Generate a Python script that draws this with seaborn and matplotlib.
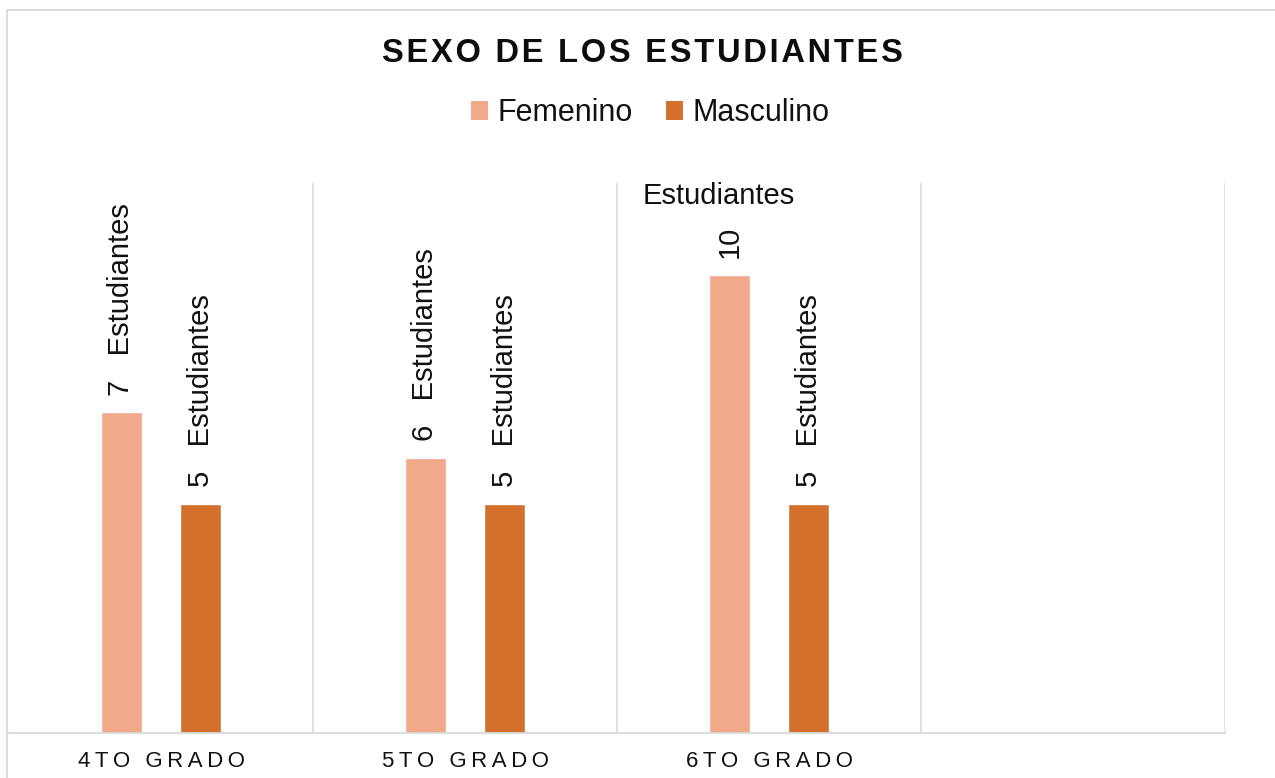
import matplotlib
matplotlib.use("Agg")
import matplotlib.pyplot as plt
from matplotlib.lines import Line2D
from matplotlib.patches import Patch
import seaborn as sns
import pandas as pd

# ---- data ----
grados = ["4TO GRADO", "5TO GRADO", "6TO GRADO", " "]
sexos = ["Femenino", "Masculino"]
femenino = [7, 6, 10]
masculino = [5, 5, 5]
colores = ["#F1A98A", "#D3702C"]
titulo = "SEXO DE LOS ESTUDIANTES"
unidad = "Estudiantes"

rows = []
for g, f, m in zip(grados, femenino, masculino):
    rows.append({"grado": g, "sexo": "Femenino", "n": f})
    rows.append({"grado": g, "sexo": "Masculino", "n": m})
df = pd.DataFrame(rows)

sns.set_theme(style="white")
plt.rcParams["font.family"] = ["Liberation Sans", "DejaVu Sans"]

W, H = 1275, 778
fig = plt.figure(figsize=(W / 100, H / 100), dpi=100)
ax = fig.add_axes([9 / W, 1 - 733 / H, 1216 / W, 550 / H])

sns.barplot(data=df, x="grado", y="n", hue="sexo", order=grados,
            hue_order=sexos, palette=colores, width=0.52, gap=0.48,
            saturation=1, legend=False, ax=ax)

ax.set_xlim(-0.5, len(grados) - 0.5)
ax.set_ylim(0, 12)
ax.set_xlabel("")
ax.set_ylabel("")
ax.set_yticks([])

# category boundaries as vertical gridlines
ax.set_xticks([i + 0.5 for i in range(len(grados))], minor=True)
ax.grid(which="minor", axis="x", color="#D9D9D9", linewidth=1.1)
ax.grid(which="major", visible=False)
ax.set_axisbelow(True)

sp = lambda s: "\u2009".join(list(s))
ax.set_xticks(range(len(grados)))
ax.set_xticklabels([sp(g) for g in grados], fontsize=16, color="#111111")
ax.tick_params(axis="x", which="both", length=0, pad=13)

for s in ["left", "right", "top"]:
    ax.spines[s].set_visible(False)
ax.spines["bottom"].set_color("#D9D9D9")
ax.spines["bottom"].set_linewidth(1.3)

# data labels
for cont in ax.containers:
    for bar in cont:
        v = bar.get_height()
        if v is None or v != v:
            continue
        xc = bar.get_x() + bar.get_width() / 2
        if v > 8:
            # tall bar: number rotated, unit wrapped horizontally above
            ax.annotate(f"{int(v)}", (xc, v), xytext=(0, 12),
                        textcoords="offset points", rotation=90,
                        ha="center", va="bottom", fontsize=21,
                        color="#111111", annotation_clip=False)
            ax.annotate(unidad, (xc, v), xytext=(-8, 51),
                        textcoords="offset points", ha="center",
                        va="baseline", fontsize=21, color="#111111",
                        annotation_clip=False)
        else:
            ax.annotate(f"{int(v)}   {unidad}", (xc, v), xytext=(0, 12),
                        textcoords="offset points", rotation=90,
                        ha="center", va="bottom", fontsize=21,
                        color="#111111", annotation_clip=False)

# title
fig.text(642.5 / W, 1 - 62 / H, "\u200a".join(list(titulo)), ha="center",
         va="baseline", fontsize=23.5, fontweight="bold", color="#0d0d0d")

# legend
handles = [Patch(facecolor=c, edgecolor="none", label=s)
           for s, c in zip(sexos, colores)]
fig.legend(handles=handles, loc="center", bbox_to_anchor=(650 / W, 1 - 113 / H),
           ncol=2, frameon=False, fontsize=22, handlelength=0.56,
           handleheight=0.56, handletextpad=0.3, columnspacing=1.1,
           borderpad=0, borderaxespad=0, labelcolor="#111111")

# chart area border (left and top)
fig.add_artist(Line2D([7 / W, 7 / W], [0, 1 - 10 / H], transform=fig.transFigure,
                      color="#D9D9D9", linewidth=1.3))
fig.add_artist(Line2D([7 / W, 1], [1 - 10 / H, 1 - 10 / H], transform=fig.transFigure,
                      color="#D9D9D9", linewidth=1.3))

fig.savefig("out.png", dpi=100, facecolor="white")
